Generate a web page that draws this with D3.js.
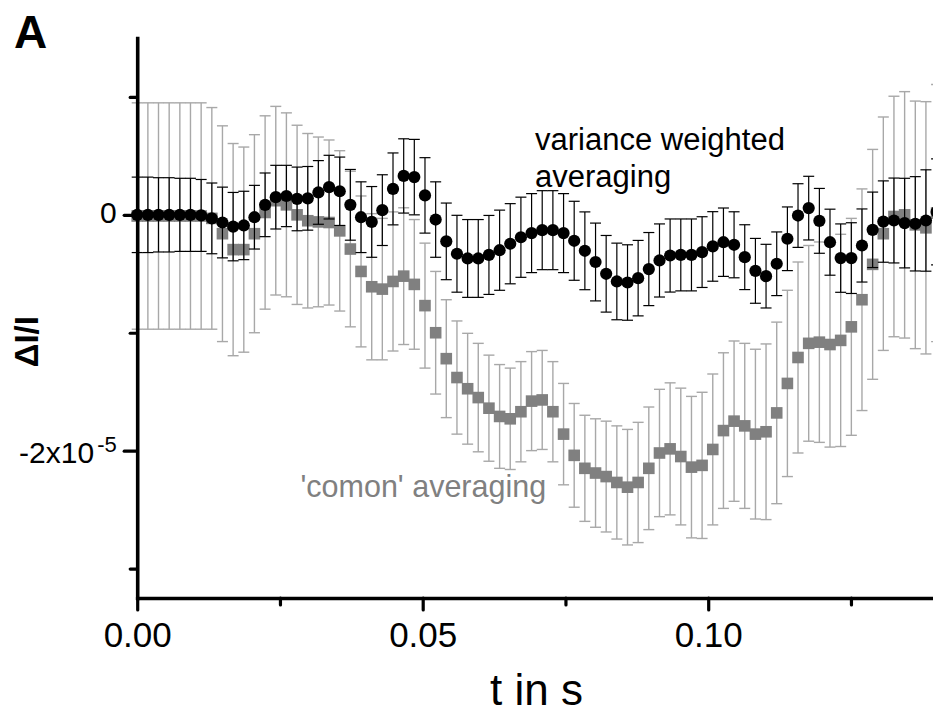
<!DOCTYPE html>
<html>
<head>
<meta charset="utf-8">
<script src="https://cdn.jsdelivr.net/npm/d3@7"></script>
<style>
  body { margin: 0; background: #fff; overflow: hidden; }
  text { font-family: "Liberation Sans", Arial, sans-serif; }
</style>
</head>
<body>
<div id="my_datavis"></div>
<script>
// sample times (s)
const times = [0, 0.00187, 0.00373, 0.0056, 0.00747, 0.00933, 0.0112, 0.01307, 0.01493, 0.0168,
  0.01867, 0.02053, 0.0224, 0.02427, 0.02613, 0.028, 0.02987, 0.03173, 0.0336, 0.03547,
  0.03733, 0.0392, 0.04107, 0.04293, 0.0448, 0.04667, 0.04853, 0.0504, 0.05227, 0.05413,
  0.056, 0.05787, 0.05973, 0.0616, 0.06347, 0.06533, 0.0672, 0.06907, 0.07093, 0.0728,
  0.07467, 0.07653, 0.0784, 0.08027, 0.08213, 0.084, 0.08587, 0.08773, 0.0896, 0.09147,
  0.09333, 0.0952, 0.09707, 0.09893, 0.1008, 0.10267, 0.10453, 0.1064, 0.10827, 0.11013,
  0.112, 0.11387, 0.11573, 0.1176, 0.11947, 0.12133, 0.1232, 0.12507, 0.12693, 0.1288,
  0.13067, 0.13253, 0.1344, 0.13627, 0.13813, 0.14];

// variance weighted averaging, dI/I in units of 1e-5
const weighted = [0, 0, 0, 0, 0, 0, -0.005, -0.03, -0.065, -0.1,
  -0.09, -0.02, 0.085, 0.15, 0.16, 0.135, 0.14, 0.19, 0.235, 0.2,
  0.085, -0.02, -0.06, 0.04, 0.22, 0.33, 0.32, 0.165, -0.04, -0.225,
  -0.33, -0.37, -0.37, -0.34, -0.3, -0.245, -0.19, -0.155, -0.13, -0.13,
  -0.155, -0.22, -0.305, -0.4, -0.5, -0.565, -0.574, -0.537, -0.46, -0.387,
  -0.345, -0.34, -0.34, -0.316, -0.268, -0.232, -0.254, -0.359, -0.475, -0.52,
  -0.415, -0.203, -0.006, 0.057, -0.051, -0.232, -0.367, -0.367, -0.26, -0.127,
  -0.057, -0.048, -0.07, -0.076, -0.048, 0.025];
const weightedErr = [0.32, 0.32, 0.315, 0.315, 0.31, 0.31, 0.305, 0.3, 0.3, 0.29,
  0.29, 0.27, 0.27, 0.27, 0.26, 0.27, 0.27, 0.27, 0.27, 0.29,
  0.3, 0.3, 0.3, 0.3, 0.305, 0.315, 0.32, 0.32, 0.32, 0.325,
  0.326, 0.33, 0.33, 0.335, 0.34, 0.34, 0.34, 0.335, 0.335, 0.335,
  0.335, 0.335, 0.33, 0.33, 0.325, 0.325, 0.32, 0.32, 0.31, 0.31,
  0.31, 0.305, 0.305, 0.3, 0.295, 0.29, 0.28, 0.275, 0.275, 0.27,
  0.27, 0.27, 0.27, 0.27, 0.275, 0.28, 0.29, 0.3, 0.31, 0.32,
  0.345, 0.36, 0.38, 0.4, 0.43, 0.45];

// 'comon' averaging
const common = [-0.01, -0.01, -0.01, -0.01, -0.01, -0.01, -0.01, -0.03, -0.16, -0.295,
  -0.295, -0.16, 0.02, 0.12, 0.085, 0, -0.05, -0.06, -0.065, -0.136,
  -0.29, -0.48, -0.61, -0.63, -0.565, -0.52, -0.59, -0.77, -1.0, -1.22,
  -1.38, -1.475, -1.55, -1.64, -1.71, -1.73, -1.67, -1.58, -1.57, -1.67,
  -1.86, -2.04, -2.15, -2.19, -2.22, -2.27, -2.31, -2.27, -2.15, -2.02,
  -1.985, -2.05, -2.14, -2.125, -1.99, -1.83, -1.75, -1.79, -1.86, -1.84,
  -1.68, -1.43, -1.21, -1.09, -1.08, -1.1, -1.065, -0.95, -0.72, -0.42,
  -0.16, -0.014, 0, -0.085, -0.11, 0.015];
const commonErr = [0.96, 0.96, 0.96, 0.96, 0.96, 0.96, 0.96, 0.94, 0.915, 0.9,
  0.87, 0.84, 0.82, 0.8, 0.78, 0.76, 0.74, 0.72, 0.7, 0.68,
  0.66, 0.64, 0.62, 0.6, 0.59, 0.58, 0.55, 0.53, 0.52, 0.5,
  0.48, 0.47, 0.46, 0.45, 0.44, 0.43, 0.425, 0.42, 0.42, 0.425,
  0.43, 0.44, 0.45, 0.46, 0.47, 0.48, 0.49, 0.51, 0.52, 0.54,
  0.56, 0.58, 0.6, 0.62, 0.64, 0.66, 0.68, 0.7, 0.72, 0.745,
  0.77, 0.79, 0.81, 0.83, 0.85, 0.87, 0.9, 0.92, 0.94, 0.975,
  0.99, 1.02, 1.045, 1.05, 1.07, 1.09];

// ticks
const xMajor = [0, 0.05, 0.10];
const xLabels = ["0.00", "0.05", "0.10"];
const xMinor = [0.025, 0.075, 0.125];
const yMajor = [0, -2];
const yMinor = [1, -1, -3];

const width = 933, height = 713;

let svg = d3.select("#my_datavis")
  .append("svg")
  .attr("width", width)
  .attr("height", height);

let x = d3.scaleLinear().domain([0, 0.14]).range([137.2, 936.6]);
let y = d3.scaleLinear().domain([-3.25, 1.5]).range([598, 38]);

// error bars + markers
function errorBars(vals, errs, color, sw) {
  let g = svg.append("g")
    .attr("stroke", color)
    .attr("stroke-width", sw);
  vals.forEach((v, i) => {
    let cx = x(times[i]);
    let top = y(v + errs[i]), bot = y(v - errs[i]);
    g.append("line").attr("x1", cx).attr("x2", cx).attr("y1", top).attr("y2", bot);
    g.append("line").attr("x1", cx - 5.5).attr("x2", cx + 5.5).attr("y1", top).attr("y2", top);
    g.append("line").attr("x1", cx - 5.5).attr("x2", cx + 5.5).attr("y1", bot).attr("y2", bot);
  });
}

errorBars(common, commonErr, "#a8a8a8", 1.4);

svg.append("g")
  .selectAll("rect")
  .data(common)
  .enter()
  .append("rect")
  .attr("x", (d, i) => x(times[i]) - 5.8)
  .attr("y", d => y(d) - 5.8)
  .attr("width", 11.6)
  .attr("height", 11.6)
  .attr("fill", "#808080");

errorBars(weighted, weightedErr, "#000", 1.2);

svg.append("g")
  .selectAll("circle")
  .data(weighted)
  .enter()
  .append("circle")
  .attr("cx", (d, i) => x(times[i]))
  .attr("cy", d => y(d))
  .attr("r", 6.1)
  .attr("fill", "#000");

// x axis
let xAxis = svg.append("g")
  .attr("transform", "translate(0,598)")
  .call(d3.axisBottom(x).tickValues(xMajor).tickSize(12).tickSizeOuter(0)
    .tickFormat((d, i) => xLabels[i]));
svg.append("g")
  .attr("transform", "translate(0,598)")
  .call(d3.axisBottom(x).tickValues(xMinor).tickSize(7).tickSizeOuter(0).tickFormat(""))
  .call(g => g.select(".domain").remove());

// y axis
let yAxis = svg.append("g")
  .attr("transform", "translate(137.2,0)")
  .call(d3.axisLeft(y).tickValues(yMajor).tickSize(13).tickSizeOuter(0)
    .tickFormat(d => d === 0 ? "0" : "-2x10"));
svg.append("g")
  .attr("transform", "translate(137.2,0)")
  .call(d3.axisLeft(y).tickValues(yMinor).tickSize(7).tickSizeOuter(0).tickFormat(""))
  .call(g => g.select(".domain").remove());

svg.selectAll(".domain")
  .attr("stroke", "#000")
  .attr("stroke-width", 3.6)
  .attr("stroke-linecap", "square");
svg.selectAll(".tick line")
  .attr("stroke", "#000")
  .attr("stroke-width", 3.2)
  .attr("stroke-linecap", "round");

xAxis.selectAll(".tick text")
  .attr("y", 48.7)
  .attr("dy", null)
  .style("font-size", "35px")
  .attr("fill", "#000");

yAxis.selectAll(".tick text")
  .attr("x", -20.5)
  .attr("dy", null)
  .attr("y", d => d === 0 ? 7.8 : 11.5)
  .style("font-size", "30px")
  .attr("fill", "#000");

// superscript on -2x10^-5
yAxis.selectAll(".tick text")
  .filter(d => d === -2)
  .append("tspan")
  .attr("dx", 3)
  .attr("dy", -10.5)
  .style("font-size", "22px")
  .text("-5");

// axis titles
svg.append("text")
  .attr("x", 536.5)
  .attr("y", 705)
  .attr("text-anchor", "middle")
  .style("font-size", "44px")
  .text("t in s");

svg.append("text")
  .attr("transform", "translate(38,341.7) rotate(-90)")
  .attr("text-anchor", "middle")
  .style("font-size", "33px")
  .style("font-weight", "bold")
  .text("\u0394I/I");

// panel letter
svg.append("text")
  .attr("x", 14)
  .attr("y", 47.7)
  .style("font-size", "46px")
  .style("font-weight", "bold")
  .text("A");

// annotations
svg.append("text")
  .attr("x", 535)
  .attr("y", 150)
  .style("font-size", "31px")
  .text("variance weighted");
svg.append("text")
  .attr("x", 535)
  .attr("y", 186.7)
  .style("font-size", "31px")
  .text("averaging");

svg.append("text")
  .attr("x", 300.5)
  .attr("y", 497.3)
  .style("font-size", "30.5px")
  .attr("fill", "#808080")
  .text("'comon' averaging");
</script>
</body>
</html>
